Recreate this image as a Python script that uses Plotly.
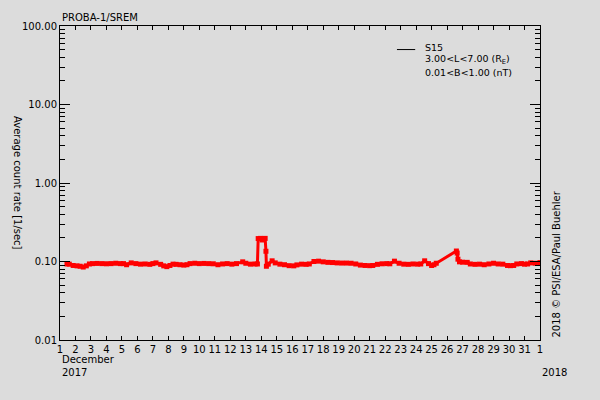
import plotly.graph_objects as go

# PROBA-1/SREM channel S15, December 2017 (x = day of month, fractional)
day = [1.45, 1.6, 1.85, 2.1, 2.3, 2.5, 2.7, 2.9, 3.1, 3.4, 3.7, 4.0, 4.3, 4.6, 4.9,
       5.1, 5.3, 5.6, 5.9, 6.2, 6.5, 6.8, 7.0, 7.2, 7.5, 7.7, 7.9, 8.1, 8.3, 8.5,
       8.75, 9.0, 9.2, 9.4, 9.7, 10.0, 10.3, 10.6, 10.9, 11.2, 11.5, 11.8, 12.1,
       12.4, 12.8, 13.0, 13.3, 13.6, 13.75, 13.8, 13.95, 14.05, 14.15, 14.25,
       14.3, 14.33, 14.45, 14.7, 14.9, 15.2, 15.5, 15.8, 16.1, 16.3, 16.6, 16.9,
       17.1, 17.4, 17.7, 18.0, 18.3, 18.6, 18.9, 19.2, 19.5, 19.8, 20.1, 20.4,
       20.7, 21.0, 21.2, 21.5, 21.8, 22.1, 22.3, 22.6, 22.9, 23.2, 23.5, 23.8,
       24.1, 24.3, 24.55, 24.8, 25.0, 25.15, 25.3, 26.6, 26.65, 26.7, 26.8,
       27.0, 27.3, 27.5, 27.8, 28.1, 28.4, 28.7, 29.0, 29.3, 29.6, 29.9, 30.1,
       30.3, 30.5, 30.8, 31.0, 31.2, 31.4, 31.7, 32.0]
rate = [0.093, 0.0925, 0.089, 0.088, 0.087, 0.085, 0.088, 0.093, 0.094, 0.0945,
        0.094, 0.0935, 0.094, 0.095, 0.094, 0.094, 0.091, 0.096, 0.094, 0.0925,
        0.093, 0.092, 0.094, 0.096, 0.092, 0.088, 0.086, 0.089, 0.0925, 0.092,
        0.091, 0.090, 0.091, 0.094, 0.095, 0.094, 0.0945, 0.094, 0.0935, 0.091,
        0.093, 0.094, 0.0925, 0.094, 0.099, 0.095, 0.0925, 0.093, 0.093, 0.196,
        0.197, 0.188, 0.195, 0.197, 0.135, 0.087, 0.0925, 0.102, 0.096, 0.0925,
        0.091, 0.0885, 0.088, 0.0905, 0.0925, 0.092, 0.093, 0.100, 0.101, 0.099,
        0.0975, 0.097, 0.096, 0.0955, 0.0955, 0.095, 0.093, 0.090, 0.089, 0.0885,
        0.089, 0.092, 0.0935, 0.094, 0.0935, 0.101, 0.095, 0.0925, 0.092, 0.093,
        0.0925, 0.093, 0.102, 0.094, 0.089, 0.091, 0.095, 0.136, 0.128, 0.107,
        0.099, 0.098, 0.0975, 0.093, 0.092, 0.0925, 0.091, 0.093, 0.095, 0.093,
        0.0925, 0.089, 0.0885, 0.089, 0.093, 0.094, 0.0925, 0.093, 0.096, 0.095,
        0.097]

x_ticks = list(range(1, 33))
x_labels = [str(d) for d in range(1, 32)] + ["1"]
y_ticks = [0.01, 0.1, 1, 10, 100]
y_labels = ["0.01", "0.10", "1.00", "10.00", "100.00"]
y_minor = [d * m for d in [0.01, 0.1, 1, 10] for m in range(2, 10)]

font = dict(family="DejaVu Sans", size=10, color="black")
bg = "#dcdcdc"

fig = go.Figure()
fig.add_trace(go.Scatter(x=day, y=rate, mode="lines+markers",
                         line=dict(color="red", width=3),
                         marker=dict(color="red", symbol="square", size=5),
                         showlegend=False))
# page has an 8px body margin, so the figure is a bit smaller than the window
fig.update_layout(
    width=592, height=392,
    margin=dict(l=52, r=60, t=12, b=60),
    paper_bgcolor=bg, plot_bgcolor=bg,
    font=font,
    showlegend=False,
)
fig.update_xaxes(range=[1, 32], tickvals=x_ticks, ticktext=x_labels,
                 ticks="inside", ticklen=4, tickcolor="black",
                 showline=True, linecolor="black", linewidth=1, mirror="ticks",
                 showgrid=False, zeroline=False, tickfont=font)
fig.update_yaxes(type="log", range=[-2, 2], tickvals=y_ticks, ticktext=y_labels,
                 ticks="inside", ticklen=10, tickcolor="black",
                 minor=dict(tickvals=y_minor, ticks="inside", ticklen=5,
                            tickcolor="black", showgrid=False),
                 showline=True, linecolor="black", linewidth=1, mirror="ticks",
                 showgrid=False, zeroline=False, tickfont=font)

leg_font = dict(family="DejaVu Sans", size=9.5, color="black")
ann = [
    dict(text="PROBA-1/SREM", x=0, y=1, xref="paper", yref="paper",
         xanchor="left", yanchor="bottom", yshift=1),
    dict(text="Average count rate [1/sec]", x=0, y=0.5, xref="paper", yref="paper",
         textangle=90, xanchor="center", yanchor="middle", xshift=-42),
    dict(text="2018 \u00a9 PSI/ESA/Paul Buehler", x=1, y=0, xref="paper", yref="paper",
         textangle=-90, xanchor="center", yanchor="bottom", xshift=16),
    dict(text="December", x=0, y=0, xref="paper", yref="paper",
         xanchor="left", yanchor="top", yshift=-12),
    dict(text="2017", x=0, y=0, xref="paper", yref="paper",
         xanchor="left", yanchor="top", yshift=-25),
    dict(text="2018", x=1, y=0, xref="paper", yref="paper",
         xanchor="left", yanchor="top", yshift=-25),
]
for a in ann:
    fig.add_annotation(showarrow=False, font=font, **a)

legend_lines = ["S15", "3.00<L<7.00 (R<sub>E</sub>)", "0.01<B<1.00 (nT)"]
legend_y = [0.930, 0.892, 0.852]
for t, yy in zip(legend_lines, legend_y):
    fig.add_annotation(text=t, x=0.758, y=yy, xref="paper", yref="paper",
                       xanchor="left", yanchor="middle", showarrow=False,
                       font=leg_font, borderpad=0)

fig.add_shape(type="line", xref="paper", yref="paper", x0=0.702, x1=0.740,
              y0=0.925, y1=0.925, line=dict(color="black", width=1))

fig.write_html("out.html",
               post_script="document.body.style.background='#dcdcdc';")
